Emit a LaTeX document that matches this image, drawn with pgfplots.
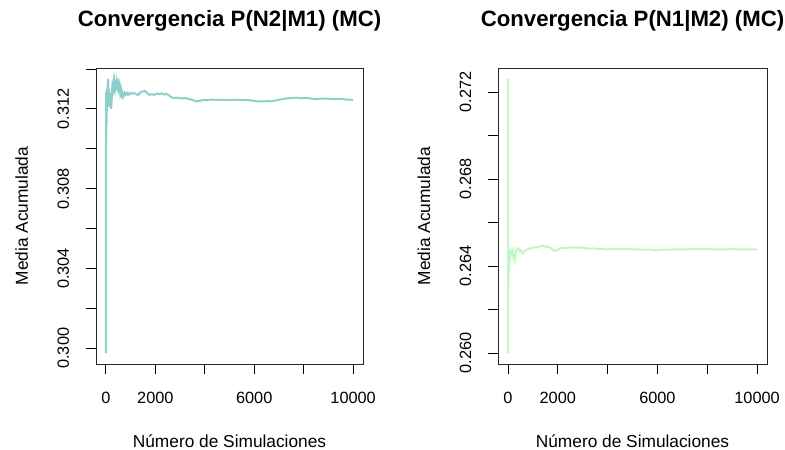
\documentclass[border=0pt]{standalone}
\usepackage{fontspec}
\setmainfont{Liberation Sans}
\usepackage{pgfplots}
\pgfplotsset{compat=1.18}

\definecolor{lineA}{HTML}{8ECFCA}
\definecolor{lineB}{HTML}{C1F7C1}

% running mean of the Monte Carlo estimate, P(N2|M1)
\pgfplotstableread{
n y
1 0.29976
2 0.3040
3 0.3075
4 0.3100
6 0.3112
8 0.3128
10 0.3118
13 0.3103
16 0.3115
20 0.3129
24 0.3122
28 0.3113
32 0.3121
37 0.3127
42 0.3119
48 0.3124
55 0.3130
62 0.3126
70 0.3132
78 0.3128
86 0.3135
94 0.3133
102 0.3127
110 0.3123
118 0.3126
126 0.3130
134 0.3125
142 0.3121
150 0.3124
160 0.3128
170 0.3126
180 0.3122
190 0.3125
200 0.3122
215 0.3120
230 0.3123
245 0.3127
260 0.3131
275 0.3134
290 0.3132
310 0.3134
330 0.3131
350 0.3133
375 0.3130
400 0.3132
430 0.3134
460 0.3131
490 0.3133
520 0.3130
550 0.3132
580 0.3128
610 0.3130
640 0.3127
670 0.3128
700 0.3126
730 0.3127
760 0.3128
800 0.3127
850 0.3128
900 0.3127
950 0.3128
1000 0.31275
1100 0.3128
1200 0.31275
1300 0.3127
1400 0.31283
1500 0.31288
1580 0.3129
1650 0.31282
1750 0.3127
1850 0.31274
1950 0.3127
2050 0.31277
2150 0.31274
2250 0.31278
2350 0.31272
2450 0.31275
2550 0.31268
2650 0.31258
2750 0.31255
2900 0.31256
3050 0.31252
3200 0.31254
3350 0.31250
3500 0.31245
3650 0.31238
3800 0.31240
3950 0.31245
4100 0.31244
4300 0.31247
4500 0.31245
4700 0.31246
4900 0.31244
5100 0.31246
5300 0.31245
5500 0.31244
5700 0.31245
5900 0.31242
6100 0.31238
6300 0.31237
6500 0.31239
6700 0.31238
6900 0.31243
7100 0.31248
7300 0.31252
7500 0.31255
7700 0.31256
7900 0.31253
8100 0.31255
8300 0.31252
8500 0.31249
8700 0.31251
8900 0.31252
9100 0.31250
9300 0.31249
9500 0.31250
9700 0.31247
9900 0.31246
10000 0.31245
}\tableA

% running mean of the Monte Carlo estimate, P(N1|M2)
\pgfplotstableread{
n y
1 0.2726
2 0.2600
3 0.2668
4 0.2618
6 0.2640
8 0.2625
10 0.2636
13 0.2630
16 0.2641
20 0.2633
25 0.2644
30 0.2637
36 0.2642
42 0.2639
50 0.2645
60 0.2641
70 0.2646
85 0.2643
100 0.26475
115 0.2645
135 0.2648
155 0.2646
175 0.26455
200 0.26465
220 0.2644
245 0.26445
270 0.2643
300 0.26455
330 0.2647
360 0.26478
400 0.26482
440 0.26475
480 0.26468
520 0.26472
560 0.26462
600 0.26458
650 0.26468
700 0.26472
760 0.26475
820 0.26478
900 0.26480
980 0.26484
1060 0.26486
1140 0.26484
1220 0.26488
1300 0.26492
1380 0.26494
1460 0.26490
1540 0.26488
1620 0.26490
1700 0.26484
1780 0.26476
1860 0.26472
1940 0.26471
2020 0.26476
2100 0.26481
2200 0.26484
2300 0.26483
2400 0.26485
2500 0.26484
2600 0.26486
2700 0.26485
2800 0.26484
2900 0.26486
3000 0.26483
3150 0.26482
3300 0.26480
3450 0.26481
3600 0.26479
3800 0.26478
4000 0.26476
4200 0.26478
4400 0.26477
4600 0.26478
4800 0.26479
5000 0.26477
5200 0.26476
5400 0.26475
5600 0.26476
5800 0.26474
6000 0.26473
6200 0.26475
6400 0.26476
6600 0.26475
6800 0.26477
7000 0.26476
7200 0.26477
7400 0.26478
7600 0.26477
7800 0.26479
8000 0.26477
8200 0.26478
8400 0.26476
8600 0.26477
8800 0.26477
9000 0.26478
9200 0.26477
9400 0.26477
9600 0.26476
9800 0.26477
10000 0.26477
}\tableB

\pgfplotsset{
  mcpanel/.style={
    scale only axis,
    anchor=south west,
    height=296pt,
    xmin=-400, xmax=10400,
    axis line style={black!85, line width=0.8pt},
    tick align=outside,
    major tick length=10pt,
    tick style={black, line width=0.8pt},
    xtick={0,2000,4000,6000,8000,10000},
    xticklabels={0,2000,,6000,,10000},
    scaled x ticks=false, scaled y ticks=false,
    xtick pos=bottom, ytick pos=left,
    tick label style={font=\fontsize{16.3}{19}\selectfont},
    xticklabel style={anchor=base},
    xticklabel shift=29pt,
    yticklabel style={rotate=90, anchor=base},
    yticklabel shift=17pt,
    title style={font=\bfseries\fontsize{22.2}{25}\selectfont,
                 at={(axis description cs:0.5,1)}, anchor=base, yshift=35pt},
    every axis x label/.style={at={(axis description cs:0.5,0)},
                 anchor=base, yshift=-83pt,
                 font=\fontsize{17.3}{20}\selectfont},
    every axis y label/.style={at={(axis description cs:0,0.5)},
                 xshift=-68pt, rotate=90, anchor=base,
                 font=\fontsize{17.3}{20}\selectfont},
    xlabel={Número de Simulaciones},
    ylabel={Media Acumulada},
  }
}

\begin{document}
\begin{tikzpicture}
\path[use as bounding box] (0,0) rectangle (785pt,450pt);

\begin{axis}[mcpanel,
  at={(96pt,86pt)}, width=267pt,
  ymin=0.29921, ymax=0.31405,
  ytick={0.300,0.302,0.304,0.306,0.308,0.310,0.312,0.314},
  yticklabels={0.300,,0.304,,0.308,,0.312,},
  title={Convergencia P(N2|M1) (MC)}]
\addplot[lineA, line width=2pt] table[x=n, y=y] {\tableA};
\end{axis}

\begin{axis}[mcpanel,
  at={(498pt,86pt)}, width=269pt,
  ymin=0.259496, ymax=0.273104,
  ytick={0.260,0.262,0.264,0.266,0.268,0.270,0.272},
  yticklabels={0.260,,0.264,,0.268,,0.272},
  title={Convergencia P(N1|M2) (MC)}]
\addplot[lineB, line width=2pt] table[x=n, y=y] {\tableB};
\end{axis}
\end{tikzpicture}
\end{document}
